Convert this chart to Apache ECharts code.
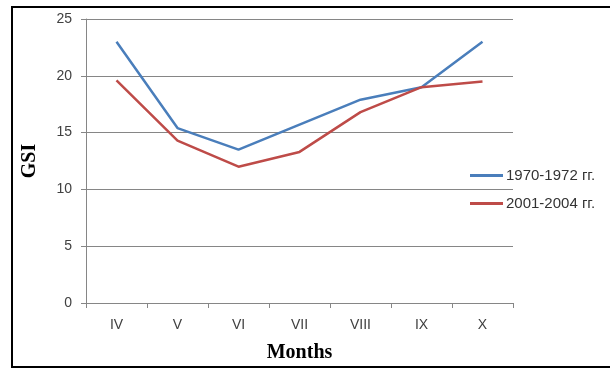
<!DOCTYPE html>
<html>
<head>
<meta charset="utf-8">
<script src="https://cdn.jsdelivr.net/npm/echarts@6/dist/echarts.min.js"></script>
<style>
  html, body { margin: 0; padding: 0; background: #fff; }
  #frame {
    position: absolute; left: 11px; top: 6px; width: 599px; height: 362px; box-sizing: border-box;
    border-left: 2px solid #000; border-top: 2px solid #000; border-bottom: 2px solid #000;
  }
  #chart { position: absolute; left: 0; top: 0; width: 610px; height: 369px; }
</style>
</head>
<body>
<div id="frame"></div>
<div id="chart"></div>
<script>
const months = ["IV", "V", "VI", "VII", "VIII", "IX", "X"];
const gsi1970 = [23.0, 15.4, 13.5, 15.7, 17.9, 19.0, 23.0];
const gsi2001 = [19.6, 14.3, 12.0, 13.3, 16.8, 19.0, 19.5];

const chart = echarts.init(document.getElementById("chart"));

const axisText = { color: "#404040", fontFamily: "Liberation Sans", fontSize: 14 };
const titleText = { color: "#000", fontFamily: "Liberation Serif", fontSize: 20, fontWeight: "bold" };

chart.setOption({
  animation: false,
  grid: { left: 86, right: 97, top: 19, bottom: 66, containLabel: false, outerBoundsMode: "none" },
  legend: {
    orient: "vertical",
    left: 465,
    top: 163,
    icon: "rect",
    itemWidth: 33,
    itemHeight: 3,
    itemGap: 13,
    textStyle: { color: "#333", fontFamily: "Liberation Sans", fontSize: 15, padding: [0, 0, 0, -2] },
    data: ["1970-1972 гг.", "2001-2004 гг."]
  },
  xAxis: {
    type: "category",
    data: months,
    boundaryGap: true,
    name: "Months",
    nameLocation: "middle",
    nameGap: 40,
    nameTextStyle: titleText,
    axisLine: { lineStyle: { color: "#868686", width: 1 } },
    axisTick: { show: true, length: 5, lineStyle: { color: "#868686" } },
    axisLabel: Object.assign({ margin: 15 }, axisText),
    splitLine: { show: false }
  },
  yAxis: {
    type: "value",
    min: 0,
    max: 25,
    interval: 5,
    name: "GSI",
    nameLocation: "middle",
    nameGap: 46,
    nameTextStyle: titleText,
    axisLine: { show: true, lineStyle: { color: "#868686", width: 1 } },
    axisTick: { show: true, length: 5, lineStyle: { color: "#868686" } },
    axisLabel: Object.assign({ margin: 14 }, axisText),
    splitLine: { lineStyle: { color: "#868686", width: 1 } }
  },
  series: [
    {
      name: "1970-1972 гг.",
      type: "line",
      data: gsi1970,
      symbol: "none",
      lineStyle: { color: "#4a7ebb", width: 2.5 },
      itemStyle: { color: "#4a7ebb" }
    },
    {
      name: "2001-2004 гг.",
      type: "line",
      data: gsi2001,
      symbol: "none",
      lineStyle: { color: "#be4b48", width: 2.5 },
      itemStyle: { color: "#be4b48" }
    }
  ]
});
</script>
</body>
</html>
